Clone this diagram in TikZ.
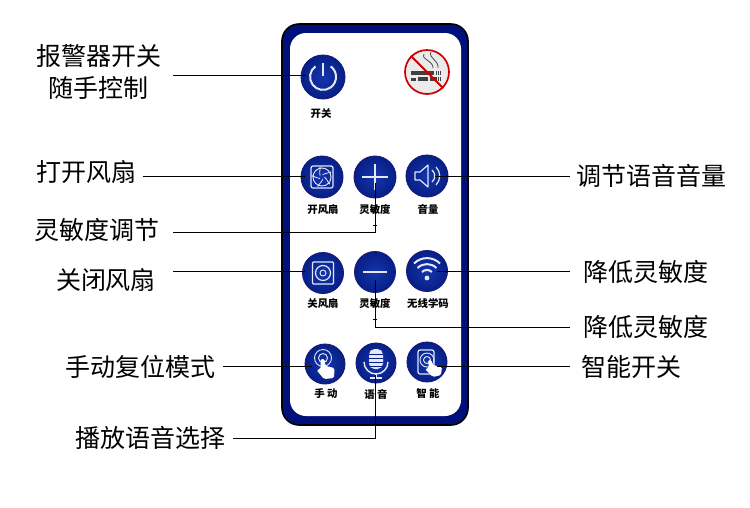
\documentclass[tikz,border=0pt]{standalone}
\usepackage{fontspec}
\setmainfont{Noto Sans CJK SC}
\usetikzlibrary{calc}
\definecolor{navy}{HTML}{00107A}
\definecolor{btnin}{HTML}{1435AE}
\definecolor{btnout}{HTML}{071F86}
\definecolor{icon}{HTML}{E4E8F2}
\tikzset{
  x=1pt,y=-1pt,
  callout/.style={font=\fontsize{25}{32}\selectfont,inner sep=0pt,text=black,align=center},
  lead/.style={draw=black,line width=1pt},
  btnc/.style={circle,minimum size=#1,inner sep=0pt,inner color=btnin,outer color=btnout,draw=black!55!blue!80!gray,line width=0.9pt},
  capt/.style={font=\fontsize{10.4}{12}\bfseries\selectfont,inner sep=0pt,text=black},
  ico/.style={draw=icon,line width=1.2pt,fill=none},
  tick/.style={draw=black,line width=1pt},
}
\begin{document}
\begin{tikzpicture}
\useasboundingbox (0,0) rectangle (750,507);
\fill[white] (0,0) rectangle (750,507);
% remote
\draw[fill=navy,draw=black,line width=1.6pt,rounded corners=17pt] (282,24) rectangle (468,425);
\fill[white,rounded corners=16pt] (290,33) rectangle (461,416);
% buttons
\node[btnc=44pt] (pw) at (323,77) {};
\node[btnc=42pt] (fan) at (322,177) {};
\node[btnc=42pt] (plus) at (375,177) {};
\node[btnc=42pt] (vol) at (427,176) {};
\node[btnc=41pt] (cfan) at (323,273) {};
\node[btnc=41pt] (minus) at (375,272) {};
\node[btnc=41pt] (wifi) at (427,271) {};
\node[btnc=40pt] (hand) at (325,364) {};
\node[btnc=40pt] (mic) at (376,363) {};
\node[btnc=40pt] (smart) at (427,362) {};
% power icon
\draw[icon,line width=2pt] ($(pw)+(-7.6,-10.6)$) arc[start angle=234,end angle=-54,radius=13];
\draw[icon,line width=2pt] ($(pw)+(0,-14)$) -- ($(pw)+(0,-1)$);
% fan icon
\draw[ico,rounded corners=2pt] ($(fan)+(-11,-11)$) rectangle ($(fan)+(11,11)$);
\draw[ico,line width=0.9pt] (fan) circle[radius=9];
\foreach \a in {0,72,144,216,288}{
  \draw[ico,line width=0.8pt] (fan) ++(\a:2.5) .. controls +(\a+40:4) and +(\a+90:3) .. ++(\a+50:8);
}
% plus, minus
\draw[icon,line width=2pt] ($(plus)+(-13,0)$) -- ($(plus)+(13,0)$);
\draw[icon,line width=2pt] ($(plus)+(0,-13)$) -- ($(plus)+(0,13)$);
\draw[icon,line width=2pt] ($(minus)+(-12,0)$) -- ($(minus)+(12,0)$);
% speaker
\draw[ico,line join=round] ($(vol)+(-12,-4)$) -- ($(vol)+(-7,-4)$) -- ($(vol)+(1,-11)$) -- ($(vol)+(1,11)$) -- ($(vol)+(-7,4)$) -- ($(vol)+(-12,4)$) -- cycle;
\draw[ico] ($(vol)+(5,-6)$) arc[start angle=-50,end angle=50,radius=7.8] ;
\draw[ico] ($(vol)+(9,-9)$) arc[start angle=-45,end angle=45,radius=12.7];
% closed fan
\draw[ico,rounded corners=1pt] ($(cfan)+(-10.5,-11)$) rectangle ($(cfan)+(10.5,11)$);
\draw[ico] (cfan) circle[radius=7.5];
\draw[ico,line width=0.9pt] (cfan) circle[radius=3];
% wifi
\fill[icon] ($(wifi)+(0,7)$) circle[radius=2.4];
\draw[icon,line width=2pt] ($(wifi)+(-5,1)$) arc[start angle=225,end angle=315,radius=7];
\draw[icon,line width=2pt] ($(wifi)+(-9.5,-3)$) arc[start angle=225,end angle=315,radius=13.4];
\draw[icon,line width=2pt] ($(wifi)+(-13,-7.5)$) arc[start angle=225,end angle=315,radius=18.4];
% hand
\draw[ico,line width=0.9pt] ($(hand)+(-2,-6)$) circle[radius=8.5];
\draw[ico,line width=0.9pt] ($(hand)+(-2,-6)$) circle[radius=4.5];
\fill[white,rounded corners=1.5pt] ($(hand)+(-4.5,-5)$) -- ($(hand)+(-0.5,-5)$) -- ($(hand)+(0.5,2)$) -- ($(hand)+(9.5,4)$) -- ($(hand)+(9,14)$) -- ($(hand)+(-1,15)$) -- ($(hand)+(-8.5,6)$) -- ($(hand)+(-4.5,5)$) -- cycle;
% mic
\fill[icon,rounded corners=5.5pt] ($(mic)+(-7,-14)$) rectangle ($(mic)+(7,6)$);
\foreach \d in {-9,-5,-1,3}{\draw[btnout,line width=0.8pt] ($(mic)+(-7,\d)$) -- ($(mic)+(7,\d)$);}
\draw[ico,line width=1.4pt] ($(mic)+(-12,-1)$) arc[start angle=180,end angle=0,radius=12];
\draw[ico,line width=1.4pt] ($(mic)+(0,11)$) -- ($(mic)+(0,15)$);
\draw[ico,line width=1.4pt] ($(mic)+(-6,15)$) -- ($(mic)+(6,15)$);
% smart
\draw[ico,rounded corners=2pt] ($(smart)+(-9,-12)$) rectangle ($(smart)+(7,12)$);
\draw[ico,line width=0.9pt] ($(smart)+(0,-2)$) circle[radius=7];
\draw[ico,line width=0.9pt] ($(smart)+(0,-2)$) circle[radius=3.5];
\fill[white,rounded corners=1.5pt] ($(smart)+(1,-2)$) -- ($(smart)+(4.5,-2)$) -- ($(smart)+(5.5,3)$) -- ($(smart)+(15,5)$) -- ($(smart)+(14,13)$) -- ($(smart)+(6,15)$) -- ($(smart)+(-2,7)$) -- ($(smart)+(2,6)$) -- cycle;
% no-smoking sign
\node[circle,minimum size=44pt,inner sep=0pt,fill=white!92!black,draw=red!80!black,line width=1.7pt] (sign) at (427,72) {};
\fill[black!75] (411,71) rectangle (434,75);
\fill[black!75] (411,78) rectangle (416,81);
\fill[black!75] (418,77) rectangle (428,81);
\fill[black!75] (430,77) rectangle (436,81);
\foreach \x in {436,438,440}{\fill[black!75] (\x,71) rectangle +(1,4); \fill[black!75] (\x,77) rectangle +(1,4);}
\draw[black!70,line width=0.8pt] (424,54) .. controls (421,60) and (433,60) .. (433,68);
\draw[black!70,line width=0.8pt] (431,52) .. controls (428,58) and (439,60) .. (438,68);
\draw[red!80!black,line width=1.9pt] (sign.135) -- (sign.-45);
% button captions
\node[capt] (t1) at (321,114) {开关};
\node[capt] (t2) at (323,210) {开风扇};
\node[capt] (t3) at (375,210) {灵敏度};
\node[capt] (t4) at (428,209) {音量};
\node[capt] (t5) at (323,304) {关风扇};
\node[capt] (t6) at (375,304) {灵敏度};
\node[capt] (t7) at (428,303) {无线学码};
\node[capt] (t8) at (326,394) {手 动};
\node[capt] (t9) at (376,394) {语 音};
\node[capt] (t10) at (428,393) {智 能};
% callouts
\node[callout] (l1) at (99,72) {报警器开关\\随手控制};
\node[callout] (l2) at (86,172) {打开风扇};
\node[callout] (l3) at (97,230) {灵敏度调节};
\node[callout] (l4) at (106,280) {关闭风扇};
\node[callout] (l5) at (140,367) {手动复位模式};
\node[callout] (l6) at (150,438) {播放语音选择};
\node[callout] (r1) at (651,176) {调节语音音量};
\node[callout] (r2) at (646,272) {降低灵敏度};
\node[callout] (r3) at (646,327) {降低灵敏度};
\node[callout] (r4) at (631,367) {智能开关};
% free ends on buttons
\coordinate (pwe) at (306,75);
\coordinate (fane) at (305,176);
\coordinate (cfane) at (305,271);
\coordinate (hande) at (312,366);
\coordinate (vole) at (435,176);
\coordinate (wifie) at (437,271);
\coordinate (smarte) at (437,366);
\coordinate (pluse) at (375,183);
\coordinate (minuse) at (375,280);
\coordinate (mice) at (375,375);
% connectors
\draw[lead] (173,75) -- (pwe);
\draw[lead] (143,176) -- (fane);
\draw[lead] (173,271) -- (cfane);
\draw[lead] (223,366) -- (hande);
\draw[lead] (570,176) -- (vole);
\draw[lead] (570,271) -- (wifie);
\draw[lead] (570,366) -- (smarte);
\draw[lead] (173,232) -| (pluse);
\draw[lead] (570,327) -| (minuse);
\draw[lead] (233,438) -| (mice);
\draw[tick] (373,225) -- (377,225);
\draw[tick] (373,319) -- (377,319);
\end{tikzpicture}
\end{document}
